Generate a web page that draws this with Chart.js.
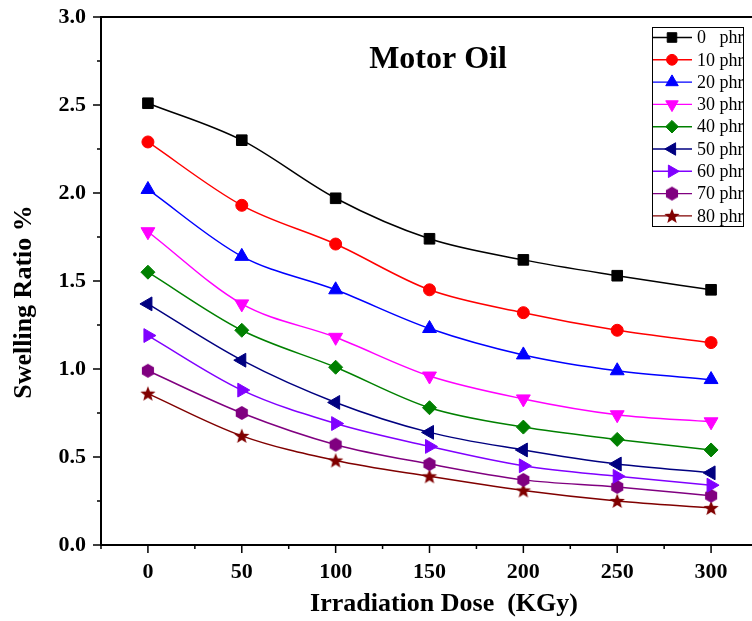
<!DOCTYPE html>
<html>
<head>
<meta charset="utf-8">
<script src="https://cdn.jsdelivr.net/npm/chart.js@4/dist/chart.umd.min.js"></script>
<style>
    html, body { margin: 0; padding: 0; background: #ffffff; overflow: hidden; }
    #wrap { width: 752px; height: 621px; overflow: hidden; }
</style>
</head>
<body>
<div id="wrap"><canvas id="swell-chart" width="770" height="621"></canvas></div>
<script>
// Swelling ratio in motor oil vs irradiation dose

const doses = [0, 50, 100, 150, 200, 250, 300];
const seriesNames = ['0', '10', '20', '30', '40', '50', '60', '70', '80'];

const phr0 = [2.51, 2.30, 1.97, 1.74, 1.62, 1.53, 1.45];
const phr10 = [2.29, 1.93, 1.71, 1.45, 1.32, 1.22, 1.15];
const phr20 = [2.02, 1.64, 1.45, 1.23, 1.08, 0.99, 0.94];
const phr30 = [1.78, 1.37, 1.18, 0.96, 0.83, 0.74, 0.70];
const phr40 = [1.55, 1.22, 1.01, 0.78, 0.67, 0.60, 0.54];
const phr50 = [1.37, 1.05, 0.81, 0.64, 0.54, 0.46, 0.41];
const phr60 = [1.19, 0.88, 0.69, 0.56, 0.45, 0.39, 0.34];
const phr70 = [0.99, 0.75, 0.57, 0.46, 0.37, 0.33, 0.28];
const phr80 = [0.86, 0.62, 0.48, 0.39, 0.31, 0.25, 0.21];

const xTickLabels = [0, 50, 100, 150, 200, 250, 300];
const yTickLabels = ['0.0', '0.5', '1.0', '1.5', '2.0', '2.5', '3.0'];

const SERIF = "'Liberation Serif', 'Times New Roman', serif";

// Custom marker images: hexagon and filled star
function makeHexagon(color, r) {
    const c = document.createElement('canvas');
    c.width = c.height = Math.ceil(r * 2 + 2);
    const g = c.getContext('2d');
    const cx = c.width / 2, cy = c.height / 2;
    g.beginPath();
    for (let i = 0; i < 6; i++) {
        const a = Math.PI / 2 + i * Math.PI / 3;
        g.lineTo(cx + r * Math.cos(a), cy - r * Math.sin(a));
    }
    g.closePath();
    g.fillStyle = color;
    g.fill();
    return c;
}

function makeStar(color, outer, inner) {
    const c = document.createElement('canvas');
    c.width = c.height = Math.ceil(outer * 2 + 2);
    const g = c.getContext('2d');
    const cx = c.width / 2, cy = c.height / 2 + 0.5;
    g.beginPath();
    for (let i = 0; i < 10; i++) {
        const r = i % 2 === 0 ? outer : inner;
        const a = -Math.PI / 2 + i * Math.PI / 5;
        g.lineTo(cx + r * Math.cos(a), cy + r * Math.sin(a));
    }
    g.closePath();
    g.fillStyle = color;
    g.fill();
    return c;
}

const seriesValues = [phr0, phr10, phr20, phr30, phr40, phr50, phr60, phr70, phr80];
const seriesColors = ['#000000', '#ff0000', '#0000ff', '#ff00ff', '#008000', '#000080', '#8000ff', '#800080', '#800000'];
const seriesStyles = [
    { style: 'rect', rotation: 0, radius: 7.5 },
    { style: 'circle', rotation: 0, radius: 6 },
    { style: 'triangle', rotation: 0, radius: 8 },
    { style: 'triangle', rotation: 180, radius: 8 },
    { style: 'rectRot', rotation: 0, radius: 7 },
    { style: 'triangle', rotation: -90, radius: 8 },
    { style: 'triangle', rotation: 90, radius: 8 },
    { style: makeHexagon('#800080', 7), rotation: 0, radius: 6 },
    { style: makeStar('#800000', 8, 3.4), rotation: 0, radius: 6 }
];

const datasets = seriesValues.map((vals, i) => ({
    label: seriesNames[i] + ' phr',
    data: doses.map((d, j) => ({ x: d, y: vals[j] })),
    borderColor: seriesColors[i],
    backgroundColor: seriesColors[i],
    borderWidth: 1.5,
    cubicInterpolationMode: 'monotone',
    pointStyle: seriesStyles[i].style,
    pointRotation: seriesStyles[i].rotation,
    pointRadius: seriesStyles[i].radius,
    pointBorderWidth: 1,
    pointBackgroundColor: seriesColors[i],
    pointBorderColor: seriesColors[i]
}));

// Frame, tick marks, titles and in-plot legend
const decorPlugin = {
    id: 'decor',
    afterDraw(chart) {
        const ctx = chart.ctx;
        const area = chart.chartArea;
        const xs = chart.scales.x, ys = chart.scales.y;
        ctx.save();

        // frame
        ctx.strokeStyle = '#000000';
        ctx.lineWidth = 2;
        ctx.beginPath();
        ctx.moveTo(area.right, area.top);
        ctx.lineTo(area.left, area.top);
        ctx.lineTo(area.left, area.bottom);
        ctx.lineTo(area.right, area.bottom);
        ctx.stroke();

        // tick marks, pointing outward
        ctx.lineWidth = 1.5;
        ctx.beginPath();
        xs.ticks.forEach(t => {
            const px = xs.getPixelForValue(t.value);
            const len = t.value % 50 === 0 ? 8 : 4;
            ctx.moveTo(px, area.bottom);
            ctx.lineTo(px, area.bottom + len);
        });
        ys.ticks.forEach(t => {
            const py = ys.getPixelForValue(t.value);
            const major = Math.abs(t.value * 2 - Math.round(t.value * 2)) < 1e-6;
            ctx.moveTo(area.left, py);
            ctx.lineTo(area.left - (major ? 8 : 4), py);
        });
        ctx.stroke();

        // plot title
        ctx.fillStyle = '#000000';
        ctx.textAlign = 'center';
        ctx.textBaseline = 'alphabetic';
        ctx.font = 'bold 32px ' + SERIF;
        ctx.fillText('Motor Oil', 438, 68);

        // axis titles
        ctx.font = 'bold 26px ' + SERIF;
        ctx.fillText('Irradiation Dose  (KGy)', 444, 611);
        ctx.save();
        ctx.translate(24, 302);
        ctx.rotate(-Math.PI / 2);
        ctx.textBaseline = 'middle';
        ctx.fillText('Swelling Ratio %', 0, 0);
        ctx.restore();

        // legend box
        const lx = 652, ly = 27, lw = 91, lh = 199;
        ctx.fillStyle = '#ffffff';
        ctx.fillRect(lx, ly, lw, lh);
        ctx.strokeStyle = '#000000';
        ctx.lineWidth = 1;
        ctx.strokeRect(lx + 0.5, ly + 0.5, lw, lh);

        ctx.save();
        ctx.beginPath();
        ctx.rect(lx, ly, lw, lh);
        ctx.clip();
        ctx.font = '18px ' + SERIF;
        ctx.textAlign = 'left';
        ctx.textBaseline = 'middle';
        const phrX = 697 + ctx.measureText('10 ').width;
        chart.data.datasets.forEach((ds, i) => {
            const y = 37.5 + i * 22.3;
            ctx.strokeStyle = ds.borderColor;
            ctx.lineWidth = 1.4;
            ctx.beginPath();
            ctx.moveTo(lx + 1, y);
            ctx.lineTo(lx + 40, y);
            ctx.stroke();
            ctx.fillStyle = ds.backgroundColor;
            ctx.strokeStyle = ds.borderColor;
            ctx.lineWidth = 1;
            Chart.helpers.drawPoint(ctx, {
                pointStyle: ds.pointStyle,
                rotation: ds.pointRotation,
                radius: ds.pointRadius * 0.9,
                borderWidth: 1
            }, lx + 20, y);
            ctx.fillStyle = '#000000';
            ctx.fillText(seriesNames[i], 697, y + 1);
            ctx.fillText('phr', phrX, y + 1);
        });
        ctx.restore();

        ctx.restore();
    }
};

function clearPadding(scale) {
    scale.paddingTop = 0;
    scale.paddingBottom = 0;
    scale.paddingLeft = 0;
    scale.paddingRight = 0;
}

const chart = new Chart(document.getElementById('swell-chart'), {
    type: 'line',
    data: { datasets: datasets },
    plugins: [decorPlugin],
    options: {
        responsive: false,
        animation: false,
        layout: { padding: { left: 0, top: 17, right: 12, bottom: 0 } },
        plugins: {
            legend: { display: false },
            tooltip: { enabled: false },
            title: { display: false }
        },
        scales: {
            x: {
                type: 'linear',
                min: -25,
                max: 325,
                afterFit: scale => { scale.height = 76; clearPadding(scale); },
                grid: { display: false, drawTicks: false },
                border: { display: false },
                ticks: {
                    stepSize: 25,
                    autoSkip: false,
                    maxRotation: 0,
                    padding: 14,
                    color: '#000000',
                    font: { family: SERIF, size: 22, weight: 'bold' },
                    callback: v => xTickLabels.includes(v) ? String(v) : ''
                }
            },
            y: {
                min: 0,
                max: 3,
                afterFit: scale => { scale.width = 101; clearPadding(scale); },
                grid: { display: false, drawTicks: false },
                border: { display: false },
                ticks: {
                    stepSize: 0.25,
                    autoSkip: false,
                    padding: 15,
                    color: '#000000',
                    font: { family: SERIF, size: 22, weight: 'bold' },
                    callback: v => {
                        const s = v.toFixed(1);
                        return (Math.abs(v * 2 - Math.round(v * 2)) < 1e-6 && yTickLabels.includes(s)) ? s : '';
                    }
                }
            }
        }
    }
});
</script>
</body>
</html>
